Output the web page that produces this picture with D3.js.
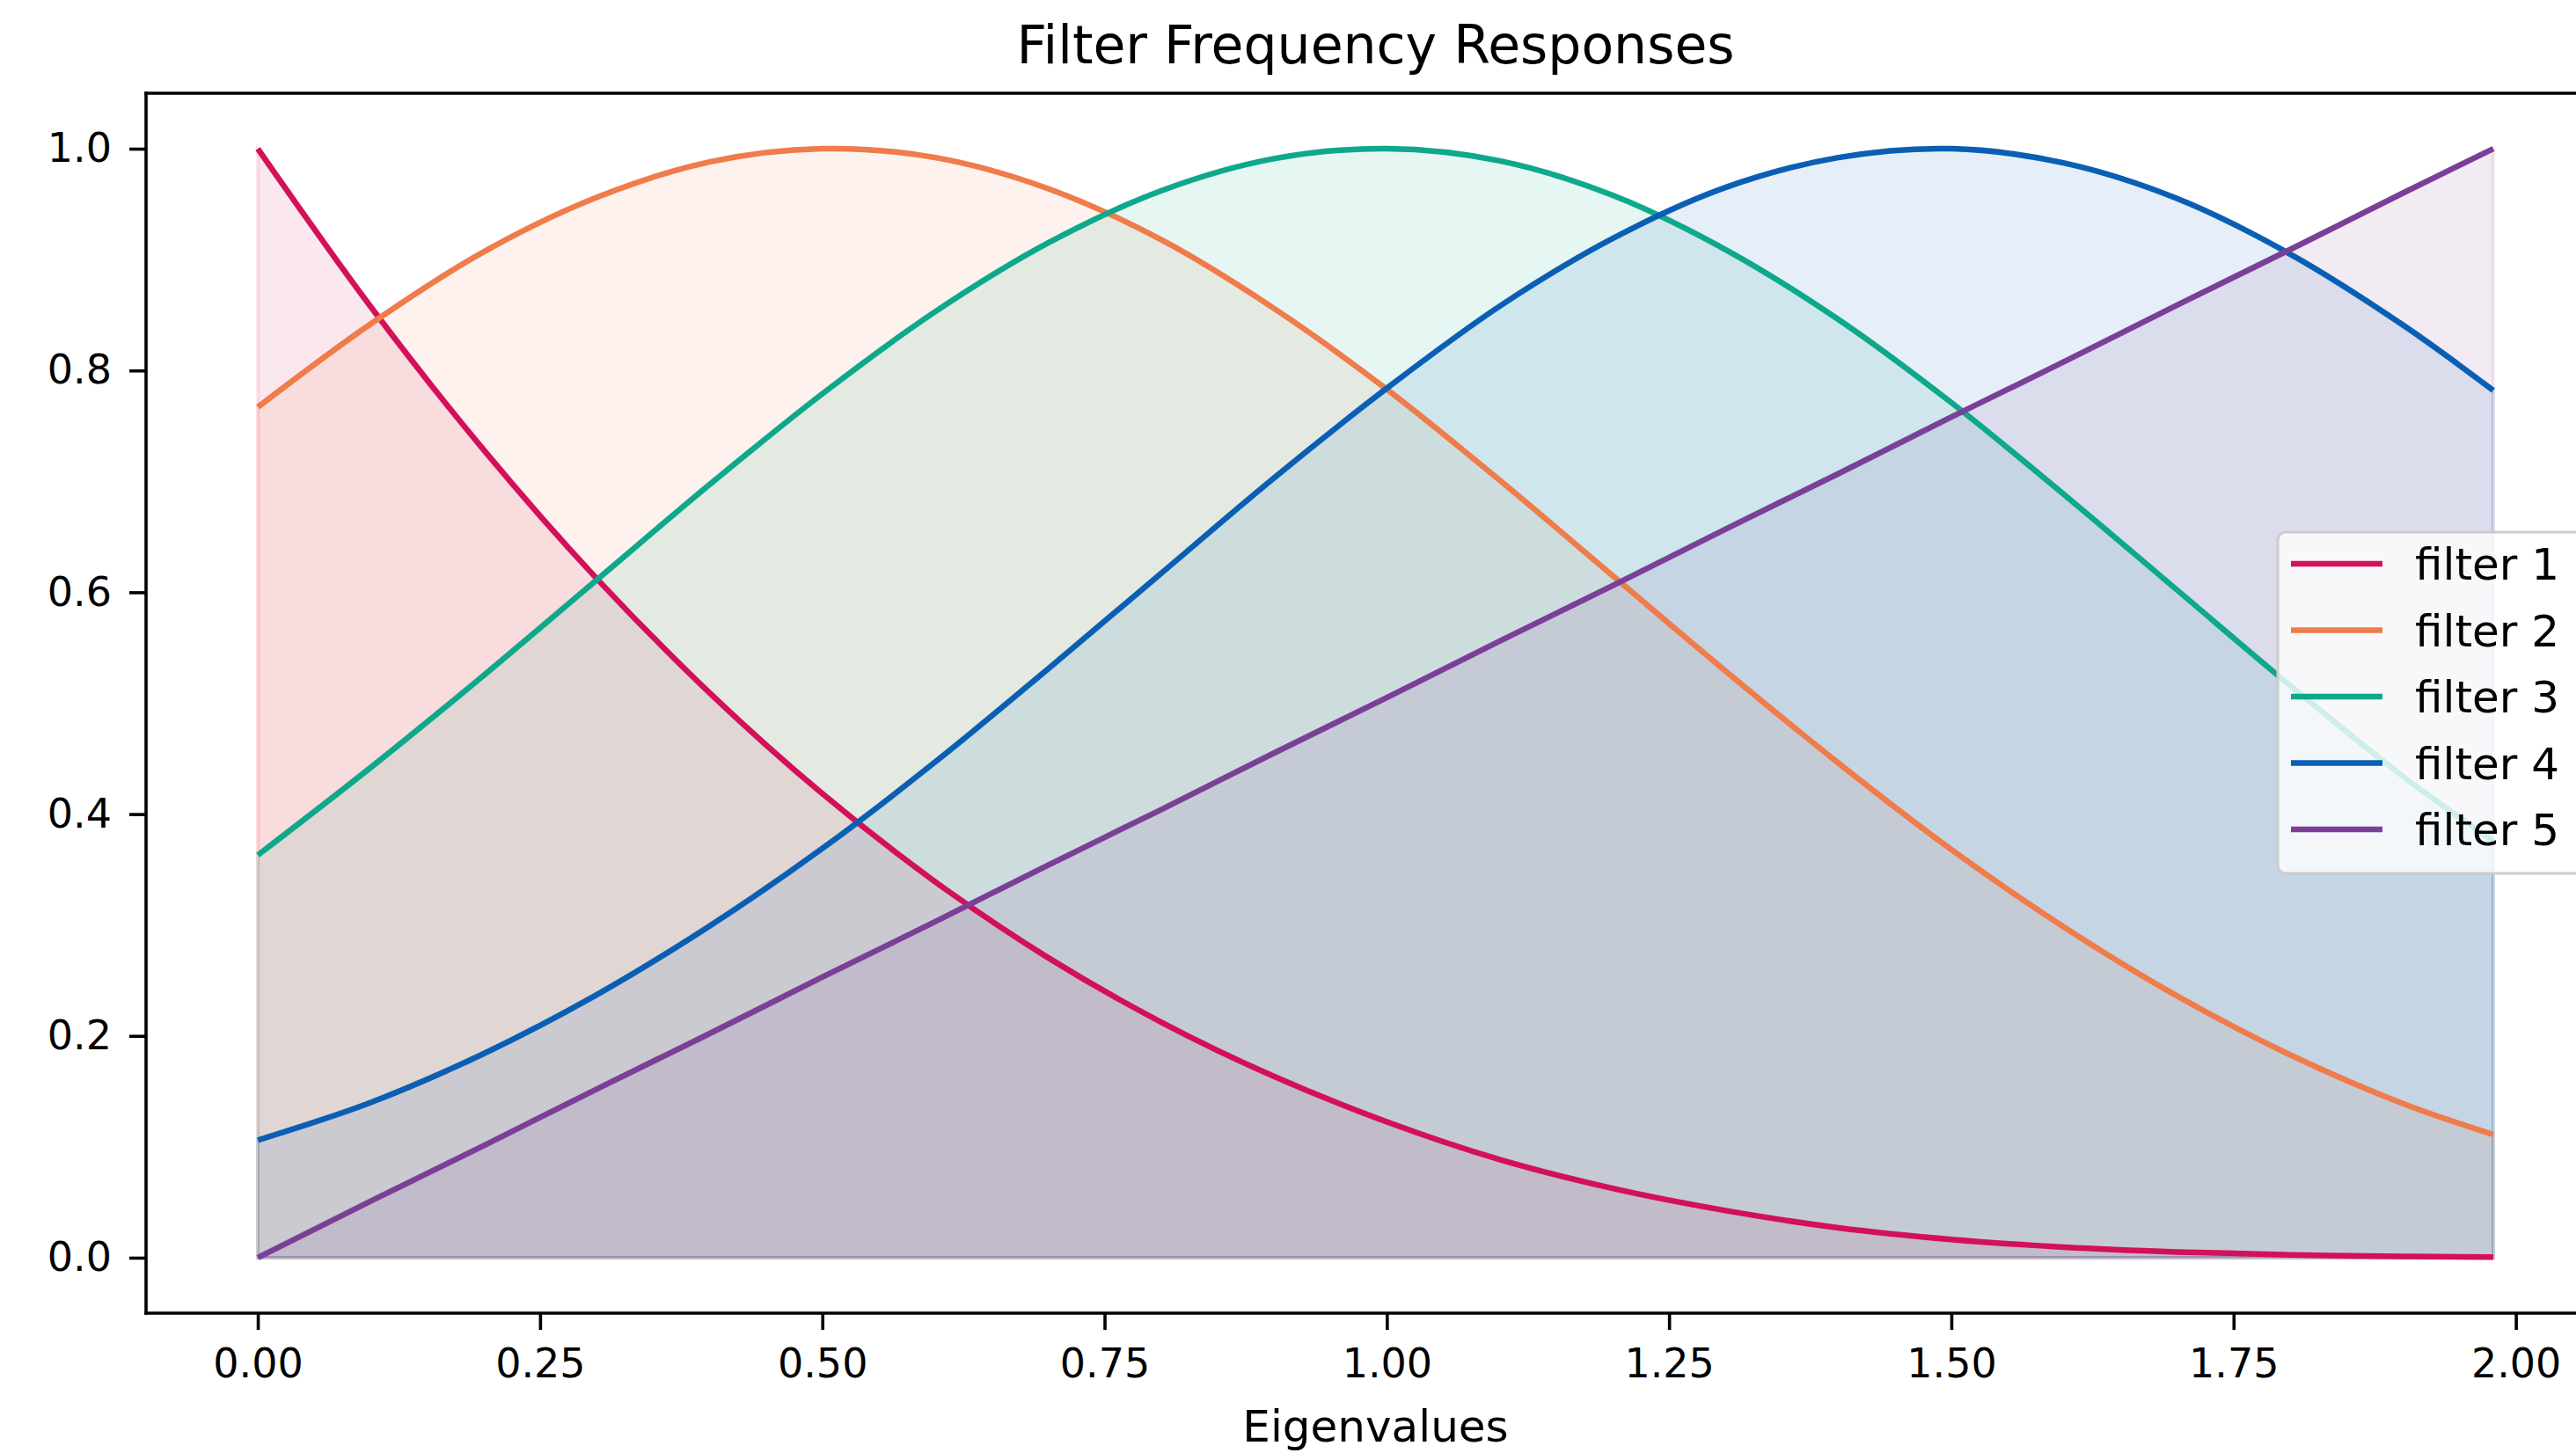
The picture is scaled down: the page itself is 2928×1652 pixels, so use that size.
<!DOCTYPE html>
<html>
<head>
<meta charset="utf-8">
<script src="https://cdn.jsdelivr.net/npm/d3@7"></script>
<style>
  html, body { margin: 0; padding: 0; background: #ffffff; }
  svg { display: block; }
  text { font-family: "DejaVu Sans", sans-serif; }
</style>
</head>
<body>
<svg id="chart" width="2928" height="1652"></svg>
<script>
// ---- data ----
const eigenvalues = [0, 0.1, 0.2, 0.3, 0.4, 0.5, 0.6, 0.7, 0.8, 0.9, 1.0,
                     1.1, 1.2, 1.3, 1.4, 1.5, 1.6, 1.7, 1.8, 1.9, 1.98];
const filter1 = [1.000, 0.8575, 0.7285, 0.6125, 0.5095, 0.4185, 0.339, 0.2705, 0.2125, 0.1635, 0.1225,
                 0.0885, 0.0625, 0.0425, 0.027, 0.0165, 0.0095, 0.0052, 0.0026, 0.0012, 0.0005];
const filter2 = [0.767, 0.842, 0.907, 0.956, 0.988, 1.000, 0.992, 0.964, 0.918, 0.856, 0.783,
                 0.701, 0.615, 0.529, 0.446, 0.368, 0.298, 0.236, 0.183, 0.139, 0.111];
const filter3 = [0.363, 0.442, 0.525, 0.611, 0.697, 0.779, 0.853, 0.915, 0.962, 0.991, 1.000,
                 0.989, 0.958, 0.909, 0.846, 0.771, 0.688, 0.602, 0.516, 0.434, 0.376];
const filter4 = [0.106, 0.140, 0.184, 0.237, 0.299, 0.369, 0.447, 0.531, 0.617, 0.703, 0.784,
                 0.858, 0.919, 0.965, 0.992, 1.000, 0.987, 0.955, 0.905, 0.841, 0.782];
const filter5 = [0.000, 0.051, 0.101, 0.152, 0.202, 0.253, 0.303, 0.354, 0.404, 0.455, 0.505,
                 0.556, 0.606, 0.657, 0.707, 0.758, 0.808, 0.859, 0.909, 0.960, 1.000];
const seriesNames = ["filter 1", "filter 2", "filter 3", "filter 4", "filter 5"];
const seriesColors = ["#d3105a", "#ef7c4a", "#0ea88c", "#0a5fb4", "#7b3f98"];
const xTicks = [0, 0.25, 0.5, 0.75, 1.0, 1.25, 1.5, 1.75, 2.0];
const yTicks = [0, 0.2, 0.4, 0.6, 0.8, 1.0];
const titleText = "Filter Frequency Responses";
const xLabel = "Eigenvalues";

const allSeries = [filter1, filter2, filter3, filter4, filter5];

(function draw() {
  const svg = d3.select("#chart");
  const pLeft = 166, pRight = 2961, pTop = 106, pBottom = 1493;
  const tickFs = 46, labelFs = 50, legendFs = 50, titleFs = 60;

  const x = d3.scaleLinear().domain([-0.099, 2.079]).range([pLeft, pRight]);
  const y = d3.scaleLinear().domain([-0.05, 1.05]).range([pBottom, pTop]);

  const plot = svg.append("g");

  const line = d3.line()
    .x((d, i) => x(eigenvalues[i]))
    .y(d => y(d))
    .curve(d3.curveCatmullRom.alpha(0.5));
  const area = d3.area()
    .x((d, i) => x(eigenvalues[i]))
    .y0(y(0))
    .y1(d => y(d))
    .curve(d3.curveCatmullRom.alpha(0.5));

  // fills first
  allSeries.forEach((vals, k) => {
    plot.append("path")
      .attr("d", area(vals))
      .attr("fill", seriesColors[k])
      .attr("fill-opacity", 0.1)
      .attr("stroke", seriesColors[k])
      .attr("stroke-opacity", 0.1)
      .attr("stroke-width", 4);
  });
  // lines on top
  allSeries.forEach((vals, k) => {
    plot.append("path")
      .attr("d", line(vals))
      .attr("fill", "none")
      .attr("stroke", seriesColors[k])
      .attr("stroke-width", 6.5)
      .attr("stroke-linecap", "butt");
  });

  const xAxis = d3.axisBottom(x)
    .tickValues(xTicks)
    .tickFormat(d3.format(".2f"))
    .tickSize(19)
    .tickPadding(21);
  const gx = svg.append("g").attr("transform", `translate(0,${pBottom})`).call(xAxis);
  gx.select(".domain").remove();
  gx.selectAll(".tick line").attr("stroke", "#000").attr("stroke-width", 3.6);
  gx.selectAll(".tick text").attr("font-size", tickFs).attr("fill", "#000")
    .attr("font-family", "DejaVu Sans");

  const yAxis = d3.axisLeft(y)
    .tickValues(yTicks)
    .tickFormat(d3.format(".1f"))
    .tickSize(19)
    .tickPadding(20);
  const gy = svg.append("g").attr("transform", `translate(${pLeft},0)`).call(yAxis);
  gy.select(".domain").remove();
  gy.selectAll(".tick line").attr("stroke", "#000").attr("stroke-width", 3.6);
  gy.selectAll(".tick text").attr("font-size", tickFs).attr("fill", "#000")
    .attr("font-family", "DejaVu Sans");

  const sp = svg.append("g").attr("stroke", "#000").attr("stroke-width", 3.6).attr("stroke-linecap", "square");
  sp.append("line").attr("x1", pLeft).attr("x2", pLeft).attr("y1", pTop).attr("y2", pBottom);
  sp.append("line").attr("x1", pLeft).attr("x2", pRight).attr("y1", pTop).attr("y2", pTop);
  sp.append("line").attr("x1", pLeft).attr("x2", pRight).attr("y1", pBottom).attr("y2", pBottom);
  sp.append("line").attr("x1", pRight).attr("x2", pRight).attr("y1", pTop).attr("y2", pBottom);

  svg.append("text")
    .attr("x", (pLeft + pRight) / 2).attr("y", 72)
    .attr("text-anchor", "middle")
    .attr("font-size", titleFs).attr("fill", "#000")
    .text(titleText);
  svg.append("text")
    .attr("x", (pLeft + pRight) / 2).attr("y", 1639)
    .attr("text-anchor", "middle")
    .attr("font-size", labelFs).attr("fill", "#000")
    .text(xLabel);

  const lg = svg.append("g");
  lg.append("rect")
    .attr("x", 2589).attr("y", 605).attr("width", 360).attr("height", 388)
    .attr("rx", 9).attr("ry", 9)
    .attr("fill", "#ffffff").attr("fill-opacity", 0.8)
    .attr("stroke", "#cccccc").attr("stroke-width", 3);
  seriesNames.forEach((name, k) => {
    const cy = 641 + k * 75.5;
    lg.append("line")
      .attr("x1", 2604).attr("x2", 2708).attr("y1", cy).attr("y2", cy)
      .attr("stroke", seriesColors[k]).attr("stroke-width", 6.5);
    lg.append("text")
      .attr("x", 2745).attr("y", cy + 18)
      .attr("font-size", legendFs).attr("fill", "#000")
      .text(name);
  });
})();
</script>
</body>
</html>
